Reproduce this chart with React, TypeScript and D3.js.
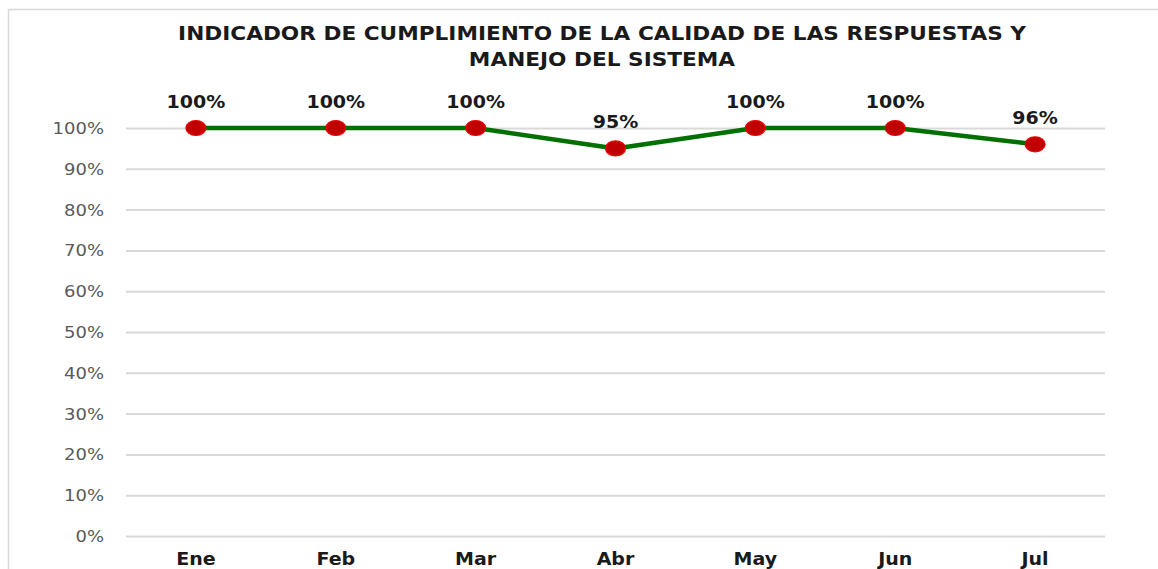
import { useEffect, useRef } from 'react';
import * as d3 from 'd3';

const months = ['Ene', 'Feb', 'Mar', 'Abr', 'May', 'Jun', 'Jul'];
const values = [1.0, 1.0, 1.0, 0.95, 1.0, 1.0, 0.96];
const yTicks = [0, 0.1, 0.2, 0.3, 0.4, 0.5, 0.6, 0.7, 0.8, 0.9, 1.0];
const titleLines = ['INDICADOR DE CUMPLIMIENTO DE LA CALIDAD DE LAS RESPUESTAS Y', 'MANEJO DEL SISTEMA'];

export default function App() {
  const svgRef = useRef<SVGSVGElement>(null);

  useEffect(() => {
    const svg = d3.select(svgRef.current);
    svg.selectAll('*').remove();

    const width = 1158, height = 569;
    const M = { top: 128, right: 53, bottom: 33, left: 126 };
    const FONT = "'DejaVu Sans', sans-serif";
    const SX = 1.12; // reference text is a bit wide

    // chart frame
    svg.append('rect').attr('x', 8.5).attr('y', 9.5).attr('width', width + 20).attr('height', height + 20)
      .attr('fill', '#fff').attr('stroke', '#d9d9d9').attr('stroke-width', 1.5);

    const x = d3.scaleBand().domain(months).range([M.left, width - M.right]);
    const cx = (m: string) => (x(m) ?? 0) + x.bandwidth() / 2;
    const y = d3.scaleLinear().domain([0, 1]).range([height - M.bottom, M.top]);

    const g = svg.append('g');

    // horizontal gridlines + labels
    g.append('g').attr('transform', `translate(${M.left},0)`)
      .call(d3.axisLeft(y).tickValues(yTicks).tickFormat(d3.format('.0%')).tickSize(-(width - M.left - M.right)).tickPadding(22))
      .call(ax => {
        ax.select('.domain').remove();
        ax.selectAll('.tick line').attr('stroke', '#d9d9d9').attr('stroke-width', 2);
        ax.selectAll<SVGTextElement, number>('.tick text')
          .attr('fill', '#595959').attr('font-size', 15).attr('font-family', FONT)
          .attr('dy', '0.36em')
          .attr('transform', function () {
            const t = this as SVGTextElement;
            const tx = +(t.getAttribute('x') ?? 0);
            return `translate(${tx},0) scale(1.2,1) translate(${-tx},0)`;
          });
      });

    // month labels
    g.selectAll('text.month').data(months).join('text')
      .attr('class', 'month')
      .attr('transform', d => `translate(${cx(d)},565) scale(${SX},1)`)
      .attr('text-anchor', 'middle').attr('font-family', FONT).attr('font-weight', 'bold')
      .attr('font-size', 17).attr('fill', '#1a1a1a')
      .text(d => d);

    // line
    const line = d3.line<number>().x((_, i) => cx(months[i])).y(d => y(d));
    g.append('path').datum(values).attr('d', line).attr('fill', 'none')
      .attr('stroke', '#007000').attr('stroke-width', 4.5).attr('stroke-linejoin', 'round');

    // markers
    g.selectAll('ellipse').data(values).join('ellipse')
      .attr('cx', (_, i) => cx(months[i])).attr('cy', d => y(d))
      .attr('rx', 10).attr('ry', 7.5)
      .attr('fill', '#c00000').attr('stroke', '#ee0000').attr('stroke-width', 1.2);

    // data labels
    g.selectAll('text.val').data(values).join('text')
      .attr('class', 'val')
      .attr('transform', (d, i) => `translate(${cx(months[i])},${y(d) - 20}) scale(${SX},1)`)
      .attr('text-anchor', 'middle').attr('font-family', FONT).attr('font-weight', 'bold')
      .attr('font-size', 17).attr('fill', '#1a1a1a')
      .text(d => d3.format('.0%')(d));

    // title
    svg.append('g').selectAll('text').data(titleLines).join('text')
      .attr('transform', (_, i) => `translate(602,${40 + i * 26}) scale(1.11,1)`)
      .attr('text-anchor', 'middle').attr('font-family', FONT).attr('font-weight', 'bold')
      .attr('font-size', 19.5).attr('fill', '#1a1a1a')
      .text(d => d);
  }, []);

  return (
    <div style={{ position: 'fixed', left: 0, top: 0, width: 1158, height: 569, overflow: 'hidden', background: '#fff' }}>
      <svg ref={svgRef} width={1158} height={569} style={{ display: 'block' }} />
    </div>
  );
}
